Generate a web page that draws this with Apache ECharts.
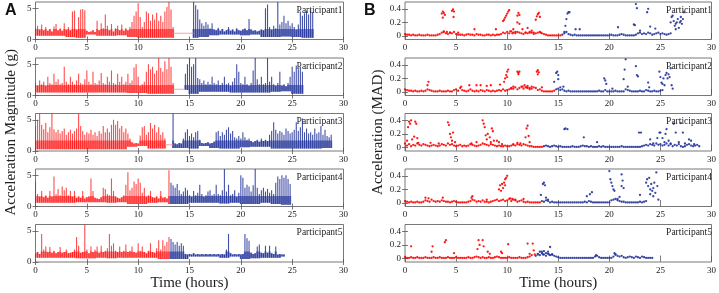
<!DOCTYPE html>
<html>
<head>
<meta charset="utf-8">
<script src="https://cdn.jsdelivr.net/npm/echarts@6/dist/echarts.min.js"></script>
<style>
  html, body { margin: 0; padding: 0; background: #fff; }
  #chart { width: 719px; height: 293px; }
</style>
</head>
<body>
<div id="chart"></div>
<script>
// ── Panel A: acceleration magnitude (g), spike peaks every 0.2 h ─────────
const STEP = 0.2;

const p1RedPeak = [1.8,2.2,1.6,2.4,1.5,2.0,1.4,1.7,1.3,2.1,2.5,1.5,1.8,1.4,2.6,1.6,2.0,1.5,
  4.5,4.6,1.6,3.6,4.8,4.9,4.7, 1.4,1.2,1.3,1.5,1.2,
  3.0,1.5,2.6,1.8,4.0,2.2,1.5,2.5,1.3,1.8,2.2,1.5,2.4,1.4,1.8,1.5,2.0,2.8,
  3.8,4.5,5.8,3.6, 2.0,2.8,4.5,4.2,3.0,4.0,3.2,4.3,3.0,3.8,2.8,4.5,5.2,6.0,4.8, 2.0];
const p1BluePeak = [6.0,5.5,4.8,3.2,2.6,2.2,2.8,2.4,1.8,2.6, 1.6,1.5,1.9,1.4,1.7,1.3,1.5,2.0,1.4,1.6,
  1.3,1.8,1.5,1.4,1.6,1.8,1.5,3.3,1.6,1.4, 1.5,1.3,1.4,1.6,1.5,5.0,5.6,2.0,1.6,2.2,
  1.8,6.0,2.4,2.8,3.8,2.6,3.0,2.2,2.6,2.0, 1.6,2.4,4.5,3.8,4.2,4.6,4.0,4.8,4.4];
const p2RedPeak = [2.0,1.6,2.4,1.8,2.2,1.6,3.0,2.0,1.8,3.5, 2.2,2.6,1.8,2.0,4.6,2.2,1.8,3.0,2.2,1.8,
  2.4,3.5,2.0,1.8,2.6,4.0,2.2,1.8,3.8,2.0, 1.8,2.4,3.6,2.0,1.8,3.0,2.2,4.0,2.0,1.8,
  3.5,2.2,3.0,1.8,2.2,3.5,2.0,2.4,4.5,5.0, 3.0,1.6,1.8,2.2,3.8,5.0,4.2,4.6,3.5,4.0,
  6.0,4.4,3.8,5.5,4.2,6.0,4.6,2.0];
const p2BluePeak = [3.5,5.0,6.0,4.6,5.0,6.0,2.8,2.6,2.0,2.4, 1.8,2.2,1.8,3.0,2.0,1.8,2.4,1.7,2.0,3.0,
  1.8,2.0,1.6,2.2,2.8,5.0,3.8,2.0,1.8,3.0, 1.8,1.6,2.0,4.0,6.0,2.6,1.8,3.0,1.8,2.0,
  6.0,2.2,3.0,1.8,1.6,2.0,3.8,1.6,1.8,1.5, 2.0,3.0,4.6,3.8,4.8,4.2,4.6,3.8];
const p3RedPeak = [4.0,5.0,6.0,4.2,3.5,4.5,3.0,3.8,6.0,3.5, 3.0,3.4,2.8,3.2,3.6,2.6,3.0,3.4,2.8,3.2,
  3.6,6.0,4.0,3.2,2.6,3.0,2.8,3.4,2.6,3.0, 2.4,3.2,2.8,4.0,3.0,3.6,3.0,4.2,5.0,4.2,
  4.8,3.6,4.0,3.0,3.6,2.8,2.0,1.4,1.2,1.3, 1.2,2.5,3.8,4.0,2.6,3.0,4.5,3.6,4.2,3.0,
  3.8,2.6,3.0,2.0];
const p3BluePeak = [6.0,1.2,1.1,1.3,1.2,2.0,3.0,3.5,2.4,2.8, 2.2,3.0,3.2,1.8,1.3,1.2,1.3,1.4,1.2,1.3,
  1.5,3.0,3.2,2.4,3.0,2.6,3.4,3.8,2.8,3.2, 2.2,2.0,2.4,2.0,3.0,2.2,1.8,2.0,1.6,1.4,
  1.6,1.8,1.5,2.0,1.6,1.8,1.6,2.6,3.2,4.6, 3.4,2.8,3.2,3.0,2.6,3.6,3.2,2.8,3.0,3.4,
  4.6,3.2,3.8,5.2,3.0,3.6,2.8,3.0,2.6,3.6, 2.8,3.0,4.0,2.6,3.4,2.4,2.2,2.6];
const p4RedPeak = [4.0,2.0,1.6,2.5,1.5,1.8,1.4,2.5,1.6,4.8, 2.0,2.8,1.8,3.2,2.6,3.0,1.8,2.5,1.6,2.5,
  1.4,1.6,1.4,2.5,1.3,1.5,1.6,4.5,2.5,1.4, 1.3,1.2,1.5,3.0,2.8,2.0,1.8,4.5,2.5,1.6,
  1.4,1.3,1.5,1.8,3.5,5.5,2.6,3.0,4.0,3.6, 4.5,3.8,2.2,3.0,1.6,1.8,2.5,1.5,1.4,1.6,
  1.3,2.5,1.4,1.5,1.3,5.8];
const p4BluePeak = [3.8,3.4,3.0,3.6,2.6,2.0,2.4,3.0,2.6,1.8, 1.6,2.5,1.8,2.2,3.5,2.0,1.6,1.8,2.4,2.6,
  1.8,2.0,3.5,2.0,1.8,2.6,6.0,2.4,3.5,1.8, 2.0,2.6,1.6,2.2,5.0,4.6,3.0,3.5,3.2,2.4,
  3.4,6.0,3.0,2.0,2.6,3.0,2.4,2.8,2.2,2.6, 2.0,3.8,4.8,4.4,5.0,4.6,5.0,4.4,3.6];
const p5RedPeak = [1.4,1.6,1.3,4.5,2.0,2.5,1.6,2.4,1.5,1.8, 1.4,1.6,2.4,1.5,1.6,2.0,1.4,1.5,1.6,2.0,
  4.0,2.6,1.5,1.6,6.0,2.0,1.4,2.5,1.6,2.0, 2.5,1.5,2.6,1.6,1.8,2.2,4.5,2.6,3.0,1.8,
  1.6,2.5,1.6,1.8,2.8,1.6,1.8,2.5,1.6,1.5, 3.0,1.8,2.5,1.6,1.4,1.8,3.0,1.6,1.5,2.2,
  3.5,2.0,3.5,2.6,3.2,4.0];
const p5BluePeak = [3.7,3.2,2.8,3.2,2.6,3.0,2.6,1.3,1.2,1.3, 1.2,1.4,1.2,1.3,1.2,1.3,1.2,1.3,1.2,1.3,
  1.2,1.3,1.2,1.3,1.2,1.3,1.2,2.0,4.5,1.4, 1.2,1.3,1.2,1.3,1.2,1.3,4.5,3.8,3.4,1.5,
  1.3,1.4,2.5,2.8,1.5,1.4,2.6,1.5,2.6,1.4, 1.3,2.5,1.2,1.3,1.2,1.2];

// lowest dip of the trace, one value per hour (0..29)
const p1Low = [0.6,0.6,0.6,0.4,0.3,0.8,0.6,0.6,0.7,0.4,0.3,0.3,0.3,0.3,0.95,0.3,0.4,0.7,0.8,0.8,0.7,0.8,0.4,0.4,0.5,0.4,0.3,0.3,1,1];
const p2Low = [0.5,0.5,0.5,0.5,0.5,0.5,0.5,0.5,0.5,0.4,0.4,0.3,0.3,0.3,0.9,0.3,0.6,0.6,0.6,0.5,0.5,0.5,0.5,0.6,0.7,0.3,0.3,1,1,1];
const p3Low = [0.3,0.3,0.3,0.3,0.3,0.3,0.3,0.3,0.3,0.7,0.8,0.4,0.4,0.5,0.5,0.4,0.8,0.5,0.4,0.4,0.6,0.7,0.7,0.4,0.4,0.4,0.4,0.4,0.5,1];
const p4Low = [0.6,0.6,0.6,0.6,0.7,0.7,0.7,0.6,0.7,0.4,0.4,0.6,0.7,0.4,0.4,0.6,0.6,0.6,0.5,0.6,0.4,0.4,0.6,0.4,0.3,1,1,1,1,1];
const p5Low = [0.7,0.7,0.7,0.7,0.6,0.6,0.7,0.6,0.7,0.7,0.7,0.7,0.5,0.5,0.5,0.9,0.9,0.9,0.7,0.9,0.5,0.6,0.7,0.7,0.9,1,1,1,1,1];

const redStart  = [0, 0, 0, 0, 0];
const blueStart = [15.4, 14.6, 13.4, 13.2, 13.2];
const gapSpan   = [[13.4, 15.4], [13.4, 14.6], [12.6, 13.4], null, null];

// ── Panel B: acceleration MAD, resting level every 0.2 h + raised points ──
const m1RedBase = [.03,.02,.02,.01,.02,.01,.01,.02,.01,.01, .01,.02,.01,.01,.01,.01,.02,.03,.05,.06,
  .04,.03,.05,.04,.06,.03,.02,.02,.02,.01, .02,.03,.02,.02,.01,.03,.02,.02,.01,.01,
  .02,.02,.01,.02,.01,.02,.02,.03,.05,.04, .06,.04,.07,.05,.04,.06,.05,.04,.03,.05,
  .04,.06,.05,.03,.04,.05,.06,.04,.03,.02, .01,.01,.01,.01,.01,.01,.01];
const m1BlueBase = [.02,.04,.06,.03,.02,.01,.02,.01,.01,.01, .01,.01,.01,.01,.01,.01,.01,.01,.01,.01,
  .01,.01,.01,.01,.02,.01,.01,.01,.02,.03, .02,.01,.01,.01,.01,.01,.02,.04,.05,.03,
  .04,.03,.05,.04,.02,.03,.04,.05,.03,.04, .03,.02,.03,.04];
const m2RedBase = [.04,.03,.02,.02,.01,.02,.01,.01,.02,.01, .02,.04,.03,.02,.01,.01,.01,.02,.01,.01,
  .01,.02,.01,.01,.03,.04,.02,.06,.03,.02, .01,.02,.04,.02,.01,.02,.01,.03,.02,.01,
  .03,.02,.01,.02,.01,.02,.03,.02,.04,.02, .03,.04,.06,.05,.07,.04,.06,.08,.05,.07,
  .06,.04,.05,.07,.06,.03,.04,.02,.01,.01, .01,.01,.01,.02];
const m2BlueBase = [.04,.05,.03,.04,.02,.01,.02,.01,.01,.01, .01,.01,.01,.01,.01,.01,.01,.01,.01,.01,
  .01,.02,.01,.01,.03,.01,.01,.01,.01,.02, .01,.01,.01,.01,.04,.03,.02,.01,.01,.01,
  .01,.02,.01,.01,.03,.02,.01,.01,.02,.01, .01,.02,.03];
const m3RedBase = [.06,.03,.05,.02,.04,.03,.06,.04,.03,.05, .04,.03,.02,.03,.04,.03,.02,.03,.05,.04,
  .03,.06,.04,.05,.03,.02,.03,.04,.02,.03, .02,.03,.05,.04,.03,.02,.03,.04,.06,.05,
  .04,.03,.05,.04,.03,.02,.03,.02,.02,.03, .02,.02,.03,.04,.03,.05,.04,.03,.05,.04,
  .03,.02,.02,.01,.01,.01,.01,.01];
const m3BlueBase = [.02,.03,.02,.01,.02,.03,.02,.01,.02,.01, .01,.01,.01,.01,.02,.01,.01,.01,.02,.03,
  .02,.02,.01,.02,.01,.01,.01,.02,.01,.02, .01,.01,.01,.01,.01,.01,.01,.01,.02,.01,
  .01,.01,.01,.01,.01,.01,.01,.01,.02,.03, .04,.03,.05,.04,.03,.06,.04,.05,.03,.04,
  .06,.03,.05,.02,.04,.03,.05,.02,.01,.02, .04,.05,.03,.02,.03,.04,.02];
const m4RedBase = [.03,.02,.01,.02,.01,.01,.02,.01,.01,.02, .04,.03,.02,.05,.03,.02,.03,.02,.04,.03,
  .02,.02,.01,.02,.03,.02,.01,.01,.01,.01, .01,.02,.03,.05,.04,.02,.03,.02,.04,.02,
  .02,.01,.02,.03,.04,.05,.03,.04,.05,.03, .04,.06,.03,.05,.04,.02,.03,.04,.02,.01,
  .02,.01,.01,.01,.01,.01,.01];
const m4BlueBase = [.03,.02,.04,.03,.01,.02,.01,.01,.01,.01, .01,.01,.01,.01,.01,.01,.01,.01,.01,.01,
  .01,.02,.01,.03,.02,.01,.01,.01,.01,.01, .01,.01,.01,.01,.04,.05,.06,.04,.03,.02,
  .02,.01,.01,.01,.01,.01,.01,.01,.02,.01, .02,.03];
const m5RedBase = [.02,.01,.01,.02,.01,.01,.02,.01,.01,.01, .02,.01,.01,.01,.02,.01,.01,.02,.01,.01,
  .01,.02,.01,.01,.01,.02,.01,.01,.01,.01, .01,.02,.01,.01,.02,.03,.02,.01,.02,.01,
  .01,.02,.01,.01,.02,.03,.02,.01,.01,.01, .01,.02,.01,.01,.01,.01,.02,.01,.01,.01,
  .02,.03];
const m5BlueBase = [.04,.06,.05,.08,.06,.04,.07,.05,.06,.04, .03,.02,.01,.01,.01,.01,.01,.01,.01,.01,
  .01,.01,.01,.01,.01,.01,.01,.01,.01,.03, .04,.02,.01,.01,.01,.01,.01,.01,.03,.06,
  .04,.03,.04,.02,.01,.02,.03,.02,.01,.03, .02,.01,.03,.02,.01,.01,.01,.01];

const madRedStart  = [0, 0, 0, 0, 0];
const madBlueStart = [15.4, 14.8, 13.6, 13.4, 12.8];

// raised MAD points: [hour, value]
const m1RedPts = [[3.6,.33],[3.7,.36],[3.8,.34],[3.9,.31],[3.7,.27],[3.8,.07],[4.1,.06],[4.4,.05],[4.6,.37],[4.7,.39],
  [4.8,.36],[4.75,.28],[5.2,.05],[6.8,.1],[8.9,.1],[9.6,.22],[9.7,.24],[9.8,.27],[9.9,.3],[10.0,.33],[10.1,.36],
  [10.2,.38],[10.3,.07],[10.5,.04],[10.6,.1],[10.8,.06],[11.0,.3],[11.1,.34],[11.2,.31],[11.0,.2],[11.2,.18],
  [11.5,.1],[11.8,.05],[12.0,.12],[12.2,.05],[12.4,.08],[12.6,.05],[12.8,.24],[12.9,.29],[13.0,.32],[13.1,.34],
  [13.2,.28],[13.3,.05]];
const m1BluePts = [[15.6,.06],[15.7,.15],[15.8,.25],[15.9,.33],[16.0,.35],[16.1,.35],[16.7,.1],[17.1,.1],[20.85,.13],
  [22.4,.17],[22.5,.16],[22.6,.47],[22.7,.41],[23.0,.08],[23.7,.35],[23.8,.4],[24.0,.14],[24.5,.11],[26.0,.2],
  [26.1,.28],[26.2,.3],[26.3,.22],[26.4,.15],[26.5,.1],[26.5,.18],[26.6,.2],[26.7,.25],[26.8,.12],[26.9,.2],
  [27.0,.22],[27.0,.28],[27.1,.18],[27.2,.25],[27.3,.35]];
const m2RedPts = [[2.2,.1],[2.3,.15],[5.5,.08],[6.3,.1],[7.0,.1],[7.4,.1],[8.0,.09],[8.4,.1],[9.3,.11],[9.7,.15],
  [9.8,.2],[9.9,.25],[10.0,.3],[10.1,.33],[10.0,.22],[10.4,.05],[10.6,.08],[11.0,.3],[11.1,.28],[11.2,.3],
  [11.1,.26],[11.5,.08],[11.7,.1],[11.9,.07],[12.0,.09],[12.2,.06],[12.4,.08],[12.9,.3],[13.0,.32],[13.1,.29],
  [13.0,.26],[13.4,.07]];
const m2BluePts = [[14.6,.15],[14.8,.28],[14.9,.3],[15.0,.25],[15.0,.19],[15.2,.07],[15.5,.08],[19.5,.2],[19.6,.17],
  [19.7,.12],[20.3,.05],[21.4,.19],[21.5,.33],[21.6,.48],[21.8,.08],[22.6,.38],[22.7,.25],[22.8,.23],[23.8,.14],
  [23.9,.07],[24.9,.3],[25.0,.22],[25.1,.14],[25.2,.12],[25.3,.2],[25.4,.1],[25.5,.25],[25.6,.28],[25.7,.2],
  [25.8,.26],[25.9,.22],[26.0,.35],[26.1,.1],[26.2,.05]];
const m3RedPts = [[0.2,.1],[0.3,.3],[0.4,.38],[0.5,.35],[0.6,.4],[0.7,.12],[0.9,.16],[1.0,.38],[1.1,.35],[1.2,.14],
  [1.3,.07],[2.5,.07],[3.3,.06],[4.2,.37],[4.3,.33],[4.4,.2],[4.5,.15],[4.6,.1],[4.7,.22],[4.9,.08],[6.5,.06],
  [7.0,.08],[7.6,.4],[7.7,.35],[7.8,.3],[7.9,.18],[8.0,.12],[8.1,.2],[8.3,.15],[8.4,.08],[8.5,.28],[8.6,.24],
  [8.7,.1],[9.0,.1],[9.2,.08],[9.5,.05],[10.6,.05],[11.0,.07],[11.3,.06],[11.8,.15],[11.9,.28],[12.0,.32],
  [12.1,.17],[12.2,.08]];
const m3BluePts = [[15.6,.27],[15.7,.28],[15.9,.27],[17.5,.15],[18.8,.08],[22.9,.22],[23.1,.22],[24.0,.12],[24.3,.06],
  [24.7,.14],[24.9,.22],[25.0,.22],[25.2,.14],[25.4,.08],[25.5,.2],[25.6,.27],[25.8,.1],[26.0,.06],[26.3,.35],
  [26.5,.22],[26.8,.08],[27.0,.36],[27.2,.22],[27.4,.06],[27.8,.12],[28.0,.1],[28.3,.05]];
const m4RedPts = [[2.0,.08],[2.3,.07],[3.7,.08],[6.5,.08],[6.6,.1],[8.0,.05],[9.2,.2],[9.3,.26],[9.4,.18],[9.5,.28],
  [9.6,.22],[9.7,.3],[9.8,.35],[9.8,.26],[9.9,.37],[10.0,.4],[10.3,.07],[10.5,.06],[10.8,.05],[11.6,.06]];
const m4BluePts = [[13.3,.12],[13.5,.28],[13.6,.3],[13.7,.26],[13.8,.08],[14.0,.05],[17.8,.1],[18.1,.13],[18.3,.16],
  [20.0,.47],[20.1,.35],[20.2,.3],[20.3,.25],[20.4,.2],[20.5,.18],[20.8,.06],[21.0,.09],[21.2,.42],[21.3,.33],
  [21.2,.25],[21.4,.22],[23.0,.12],[23.6,.3],[23.7,.35],[23.8,.25],[23.9,.37],[24.0,.2],[24.0,.13],[24.1,.28],
  [24.2,.18],[24.3,.22],[24.3,.1],[24.4,.3],[24.5,.15],[24.6,.45],[24.7,.25],[24.8,.05]];
const m5RedPts = [[0.6,.18],[2.6,.1],[2.7,.18],[3.9,.24],[4.0,.27],[4.8,.08],[7.1,.14],[7.2,.27],[7.3,.2],[7.6,.27],
  [7.7,.18],[8.1,.1],[8.3,.07],[9.4,.1],[9.5,.08],[10.1,.21],[12.0,.22],[12.2,.07],[12.4,.05],[12.5,.22],
  [12.6,.12],[12.7,.06]];
const m5BluePts = [[13.0,.07],[13.2,.1],[13.4,.1],[13.5,.06],[13.6,.11],[13.8,.08],[14.0,.1],[14.1,.06],[14.2,.17],
  [14.4,.06],[18.7,.05],[20.5,.08],[20.6,.06]];

const participants = ['Participant1', 'Participant2', 'Participant3', 'Participant4', 'Participant5'];
const gTicks = [0, 5];
const madTicks = [0, 0.2, 0.4];

// ── Style ───────────────────────────────────────────────────────────────
const SERIF = "'Liberation Serif', 'Times New Roman', serif";
const TEXT = '#222';
const FRAME = '#555';
const RED = '#ff0000';
const BLUE = '#22339a';
const CORE_TOP = 1.7;   // dense part of the trace is drawn a bit wider
const TOPS = [2, 58, 113.5, 169, 224.5];
const H = 37.5;
const PANEL_LEFT = [35.5, 405];
const PANEL_W = 308;

const peaks = [[p1RedPeak, p1BluePeak], [p2RedPeak, p2BluePeak], [p3RedPeak, p3BluePeak],
               [p4RedPeak, p4BluePeak], [p5RedPeak, p5BluePeak]];
const lows = [p1Low, p2Low, p3Low, p4Low, p5Low];
const madBase = [[m1RedBase, m1BlueBase], [m2RedBase, m2BlueBase], [m3RedBase, m3BlueBase],
                 [m4RedBase, m4BlueBase], [m5RedBase, m5BlueBase]];
const madPts = [[m1RedPts, m1BluePts], [m2RedPts, m2BluePts], [m3RedPts, m3BluePts],
                [m4RedPts, m4BluePts], [m5RedPts, m5BluePts]];

const grid = [], xAxis = [], yAxis = [], series = [], title = [];

function spikeRender(color, opacity) {
  return (params, api) => {
    const t = api.value(0), lo = api.value(1), hi = api.value(2);
    const a = api.coord([t, lo]);
    const b = api.coord([t, hi]);
    const c = api.coord([t, Math.min(hi, CORE_TOP)]);
    return { type: 'group', children: [
      { type: 'line', shape: { x1: a[0], y1: a[1], x2: c[0], y2: c[1] },
        style: { stroke: color, lineWidth: 2.1, opacity: opacity * 0.75 } },
      { type: 'line', shape: { x1: a[0], y1: a[1], x2: b[0], y2: b[1] },
        style: { stroke: color, lineWidth: 1.1, opacity: opacity } },
    ] };
  };
}

// adds a framed grid with bottom/top x axes and left/right y axes, returns its index
function addPanel(left, top, yMin, yMax, yTickVals, yFmt, isLast, yName, nameGap) {
  const g = grid.length;
  grid.push({ left: left, top: top, width: PANEL_W, height: H,
              show: true, borderColor: FRAME, borderWidth: 0.8 });
  const tick = { inside: true, length: 3, lineStyle: { color: FRAME, width: 0.8 } };
  xAxis.push({ type: 'value', gridIndex: g, min: 0, max: 30, interval: 5, position: 'bottom',
    axisLine: { show: false }, axisTick: tick, splitLine: { show: false },
    axisLabel: { fontFamily: SERIF, fontSize: 9, color: TEXT, margin: 4 },
    name: isLast ? 'Time (hours)' : '', nameLocation: 'middle', nameGap: 13,
    nameTextStyle: { fontFamily: SERIF, fontSize: 15, color: TEXT } });
  xAxis.push({ type: 'value', gridIndex: g, min: 0, max: 30, interval: 5, position: 'top',
    axisLine: { show: false }, axisTick: tick, axisLabel: { show: false }, splitLine: { show: false } });
  const yBase = { type: 'value', gridIndex: g, min: yMin, max: yMax,
    axisLine: { show: false }, splitLine: { show: false } };
  yAxis.push(Object.assign({}, yBase, { position: 'left',
    axisTick: Object.assign({ customValues: yTickVals }, tick),
    axisLabel: { customValues: yTickVals, formatter: yFmt, fontFamily: SERIF, fontSize: 9, color: TEXT, margin: 4 },
    name: yName || '', nameLocation: 'middle', nameGap: nameGap,
    nameTextStyle: { fontFamily: SERIF, fontSize: 15, color: TEXT } }));
  yAxis.push(Object.assign({}, yBase, { position: 'right',
    axisTick: Object.assign({ customValues: yTickVals }, tick), axisLabel: { show: false } }));
  return g;
}

for (let p = 0; p < 5; p++) {
  // panel A
  const gA = addPanel(PANEL_LEFT[0], TOPS[p], 0, 6, gTicks, v => String(v), p === 4,
                      p === 2 ? 'Acceleration Magnitude (g)' : '', 17);
  const starts = [redStart[p], blueStart[p]];
  [[RED, 0.7], [BLUE, 0.85]].forEach(([color, op], k) => {
    const data = peaks[p][k].map((v, i) => {
      const t = starts[k] + i * STEP;
      return [t, lows[p][Math.floor(t)], v];
    });
    series.push({ type: 'custom', xAxisIndex: 2 * gA, yAxisIndex: 2 * gA, data: data,
      encode: { x: 0, y: [1, 2] }, renderItem: spikeRender(color, op), clip: true, silent: true });
  });
  if (gapSpan[p]) {
    series.push({ type: 'line', xAxisIndex: 2 * gA, yAxisIndex: 2 * gA, showSymbol: false, silent: true,
      data: [[gapSpan[p][0], 1], [gapSpan[p][1], 1]], lineStyle: { color: '#ff8a8a', width: 0.8 } });
  }
  title.push({ text: participants[p], right: 719 - PANEL_LEFT[0] - PANEL_W + 1, top: TOPS[p] + 3, padding: 0,
    textStyle: { fontFamily: SERIF, fontSize: 9.5, fontWeight: 'normal', color: TEXT } });

  // panel B
  const gB = addPanel(PANEL_LEFT[1], TOPS[p], -0.05, 0.5, madTicks, v => (v === 0 ? '0' : v.toFixed(1)), p === 4,
                      p === 2 ? 'Acceleration (MAD)' : '', 19);
  const mStarts = [madRedStart[p], madBlueStart[p]];
  [RED, BLUE].forEach((color, k) => {
    const data = madBase[p][k].map((v, i) => [mStarts[k] + i * STEP, v]).concat(madPts[p][k]);
    series.push({ type: 'scatter', xAxisIndex: 2 * gB, yAxisIndex: 2 * gB, data: data,
      symbolSize: 2.3, itemStyle: { color: color, opacity: 0.9 }, silent: true });
  });
  title.push({ text: participants[p], right: 719 - PANEL_LEFT[1] - PANEL_W + 1, top: TOPS[p] + 3, padding: 0,
    textStyle: { fontFamily: SERIF, fontSize: 9.5, fontWeight: 'normal', color: TEXT } });
}

title.push({ text: 'A', left: 5, top: 3, padding: 0,
  textStyle: { fontFamily: "'Liberation Sans', Arial, sans-serif", fontSize: 16, fontWeight: 'bold', color: '#111' } });
title.push({ text: 'B', left: 364, top: 3, padding: 0,
  textStyle: { fontFamily: "'Liberation Sans', Arial, sans-serif", fontSize: 16, fontWeight: 'bold', color: '#111' } });

const chart = echarts.init(document.getElementById('chart'), null, { renderer: 'canvas' });
chart.setOption({
  animation: false,
  backgroundColor: '#fff',
  title: title,
  grid: grid,
  xAxis: xAxis,
  yAxis: yAxis,
  series: series,
});
</script>
</body>
</html>
